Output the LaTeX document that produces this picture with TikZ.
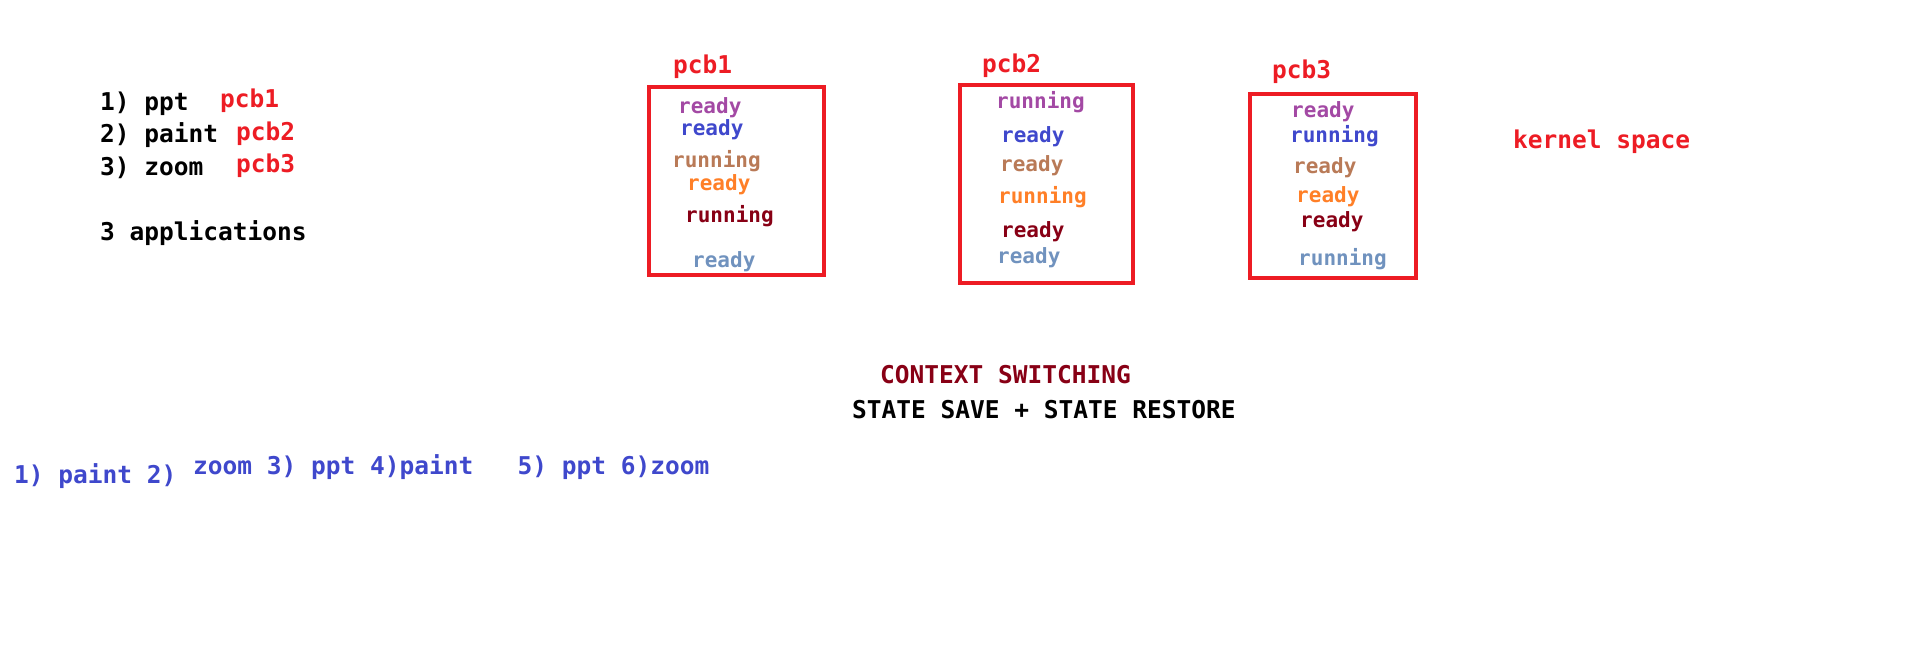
\documentclass[tikz,border=0pt]{standalone}
\usepackage{fontspec}
\setmainfont{DejaVu Sans Mono}
\usepackage{tikz}
\usetikzlibrary{positioning}

\definecolor{pcbred}{HTML}{ED1C24}
\definecolor{darkred}{HTML}{880015}
\definecolor{lilac}{HTML}{A349A4}
\definecolor{indigo}{HTML}{3F48CC}
\definecolor{tan}{HTML}{B97A57}
\definecolor{orangey}{HTML}{FF7F27}
\definecolor{steel}{HTML}{7092BE}

\begin{document}
\begin{tikzpicture}[x=1pt, y=-1pt,
	txt/.style={anchor=base west, inner sep=0pt, font=\fontsize{24.5}{29}\selectfont\bfseries},
	state/.style={anchor=base west, inner sep=0pt, font=\fontsize{21}{25}\selectfont\bfseries},
	pcbbox/.style={draw=pcbred, line width=4pt}]
			
			\useasboundingbox (0,0) rectangle (1914,659);
			
			% The three applications
			\node[txt] (app1) at (100,110) {1) ppt};
			\node[txt] (app2) at (100,142) {2) paint};
			\node[txt] (app3) at (100,175) {3) zoom};
			\node[txt] (apps) at (100,240) {3 applications};
			\node[txt, pcbred] (lpcb1) at (220,107) {pcb1};
			\node[txt, pcbred] (lpcb2) at (236,140) {pcb2};
			\node[txt, pcbred] (lpcb3) at (236,172) {pcb3};
			
			% PCB 1
			\draw[pcbbox] (649,87) rectangle (824,275);
			\node[txt, pcbred] (pcb1) at (673,73) {pcb1};
			\node[state, lilac] (s11) at (678,113) {ready};
			\node[state, indigo] (s12) at (680,135) {ready};
			\node[state, tan] (s13) at (672,167) {running};
			\node[state, orangey] (s14) at (687,190) {ready};
			\node[state, darkred] (s15) at (685,222) {running};
			\node[state, steel] (s16) at (692,267) {ready};
			
			% PCB 2
			\draw[pcbbox] (960,85) rectangle (1133,283);
			\node[txt, pcbred] (pcb2) at (982,72) {pcb2};
			\node[state, lilac] (s21) at (996,108) {running};
			\node[state, indigo] (s22) at (1001,142) {ready};
			\node[state, tan] (s23) at (1000,171) {ready};
			\node[state, orangey] (s24) at (998,203) {running};
			\node[state, darkred] (s25) at (1001,237) {ready};
			\node[state, steel] (s26) at (997,263) {ready};
			
			% PCB 3
			\draw[pcbbox] (1250,94) rectangle (1416,278);
			\node[txt, pcbred] (pcb3) at (1272,78) {pcb3};
			\node[state, lilac] (s31) at (1291,117) {ready};
			\node[state, indigo] (s32) at (1290,142) {running};
			\node[state, tan] (s33) at (1293,173) {ready};
			\node[state, orangey] (s34) at (1296,202) {ready};
			\node[state, darkred] (s35) at (1300,227) {ready};
			\node[state, steel] (s36) at (1298,265) {running};
			
			\node[txt, pcbred] (kernel) at (1513,148) {kernel space};
			
			% Context switching
			\node[txt, darkred] (ctx) at (880,383) {CONTEXT SWITCHING};
			\node[txt] (save) at (852,418) {STATE SAVE + STATE RESTORE};
			
			% Order of execution
			\node[txt, indigo] (run1) at (14,483) {1) paint 2)};
			\node[txt, indigo] (run2) at (193,474) {zoom 3) ppt 4)paint\ \ \ 5) ppt 6)zoom};
			
		\end{tikzpicture}
\end{document}
